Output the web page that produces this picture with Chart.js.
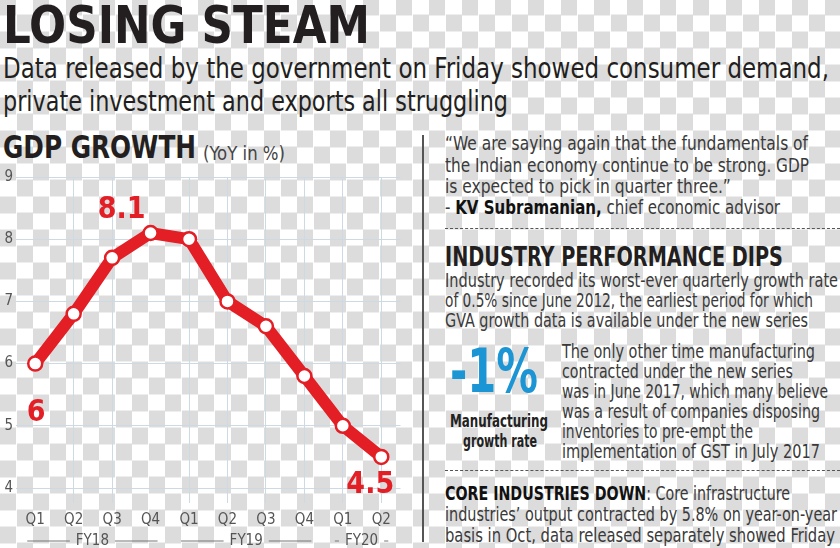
<!DOCTYPE html>
<html lang="en">
<head>
  <meta charset="UTF-8">
  <title>Losing steam</title>
  <script src="https://cdn.jsdelivr.net/npm/chart.js"></script>
  <style>
    :root {
      --red: #e31e25;
      --blue: #1b95d3;
      --ink: #231f20;
      --text: #3a3a3a;
    }

    body {
      margin: 0;
      width: 840px;
      height: 548px;
      overflow: hidden;
      position: relative;
      font-family: 'Liberation Sans Narrow', 'DejaVu Sans Condensed', 'Roboto', sans-serif;
      color: var(--text);
      /* transparency checkerboard of the original png */
      background: repeating-conic-gradient(#fff 0 25%, #dcdcdc 0 50%) 0 -1.5px / 33px 33px;
    }

    .t {
      position: absolute;
      white-space: nowrap;
      line-height: 1;
      transform-origin: 0 0;
    }

    .title { font-weight: bold; font-size: 52px; color: var(--ink); }
    .sub { font-size: 29px; color: var(--ink); }
    .head { font-weight: bold; font-size: 32px; color: var(--ink); }
    .unit { font-size: 20px; color: #444; }
    .body { font-size: 19px; }
    .body b { color: #111; }
    .big { font-weight: bold; font-size: 60px; color: var(--blue); }
    .small { font-weight: bold; font-size: 18px; color: #222; }

    .divider {
      position: absolute;
      left: 422px;
      top: 135px;
      width: 1.5px;
      height: 407px;
      background: #555;
    }

    .dash {
      position: absolute;
      left: 445px;
      width: 395px;
      height: 0;
      border-top: 1px dashed #555;
    }

    #wrap {
      position: absolute;
      left: 0;
      top: 165px;
      width: 410px;
      height: 383px;
    }
  </style>
</head>
<body>

  <div class="t title" data-w="367" style="left:3px; top:-1px;">LOSING STEAM</div>
  <div class="t sub" data-w="826" style="left:3px; top:54px;">Data released by the government on Friday showed consumer demand,</div>
  <div class="t sub" data-w="505" style="left:3px; top:87px;">private investment and exports all struggling</div>

  <div class="t head" data-w="193" style="left:3px; top:131px;">GDP GROWTH</div>
  <div class="t unit" data-w="82" style="left:203px; top:143px;">(YoY in %)</div>

  <div class="divider"></div>

  <div class="t body" id="q1" data-w="363" style="left:445px; top:134px;">“We are saying again that the fundamentals of</div>
  <div class="t body" data-w="364" style="left:445px; top:156px;">the Indian economy continue to be strong. GDP</div>
  <div class="t body" data-like="q1" style="left:445px; top:177px;">is expected to pick in quarter three.”</div>
  <div class="t body" data-w="335" style="left:445px; top:198px;">- <b>KV Subramanian,</b> chief economic advisor</div>

  <div class="dash" style="top:228px;"></div>

  <div class="t head" data-w="338" style="left:445px; top:243px; font-size:27px;">INDUSTRY PERFORMANCE DIPS</div>
  <div class="t body" data-w="393" style="left:445px; top:271px;">Industry recorded its worst-ever quarterly growth rate</div>
  <div class="t body" data-w="368" style="left:445px; top:291px;">of 0.5% since June 2012, the earliest period for which</div>
  <div class="t body" data-w="363" style="left:445px; top:311px;">GVA growth data is available under the new series</div>

  <div class="t big" data-w="88" style="left:450px; top:341px;">-1%</div>
  <div class="t small" data-w="98" style="left:450px; top:412px;">Manufacturing</div>
  <div class="t small" data-w="74" style="left:463px; top:432px;">growth rate</div>

  <div class="t body" data-w="253" style="left:562px; top:342px;">The only other time manufacturing</div>
  <div class="t body" data-w="231" style="left:562px; top:362px;">contracted under the new series</div>
  <div class="t body" data-w="266" style="left:562px; top:382px;">was in June 2017, which many believe</div>
  <div class="t body" data-w="258" style="left:562px; top:402px;">was a result of companies disposing</div>
  <div class="t body" data-w="191" style="left:562px; top:422px;">inventories to pre-empt the</div>
  <div class="t body" data-w="258" style="left:562px; top:442px;">implementation of GST in July 2017</div>

  <div class="dash" style="top:470px;"></div>

  <div class="t body" data-w="345" style="left:445px; top:483px; font-size:20px;"><b>CORE INDUSTRIES DOWN</b>: Core infrastructure</div>
  <div class="t body" data-w="392" style="left:445px; top:504px; font-size:20px;">industries’ output contracted by 5.8% on year-on-year</div>
  <div class="t body" data-w="390" style="left:445px; top:525px; font-size:20px;">basis in Oct, data released separately showed Friday</div>

  <div id="wrap"><canvas id="gdp"></canvas></div>

  <script>
    const quarters = ['Q1', 'Q2', 'Q3', 'Q4', 'Q1', 'Q2', 'Q3', 'Q4', 'Q1', 'Q2'];
    const gdpGrowth = [6.0, 6.8, 7.7, 8.1, 8.0, 7.0, 6.6, 5.8, 5.0, 4.5];
    const fiscalYears = ['FY18', 'FY19', 'FY20'];
    const quartersPerYear = [4, 4, 2];
    const yMin = 4;
    const yMax = 9;
    const labelledPoints = [0, 3, 9];

    const FONT = "'Liberation Sans Narrow', 'DejaVu Sans Condensed', sans-serif";
    const RED = '#e31e25';
    const GRID = '#cddae4';

    // squeeze each text line to the width it has in the print layout
    function fitText() {
      const scales = {};
      document.querySelectorAll('[data-w]').forEach(el => {
        const s = el.dataset.w / el.getBoundingClientRect().width;
        scales[el.id] = s;
        el.style.transform = 'scaleX(' + s + ')';
      });
      document.querySelectorAll('[data-like]').forEach(el => {
        el.style.transform = 'scaleX(' + scales[el.dataset.like] + ')';
      });
    }

    // value labels next to some points (offsets are layout only)
    const labelOffsets = { 0: [1, 50], 3: [-29, -23], 9: [-11, 28] };

    const pointLabels = {
      id: 'pointLabels',
      afterDatasetsDraw(chart) {
        const ctx = chart.ctx;
        const pts = chart.getDatasetMeta(0).data;
        ctx.save();
        ctx.font = "bold 30px " + FONT;
        ctx.fillStyle = RED;
        ctx.textAlign = 'center';
        ctx.textBaseline = 'middle';
        labelledPoints.forEach(i => {
          const off = labelOffsets[i] || [0, -25];
          ctx.fillText(String(gdpGrowth[i]), pts[i].x + off[0], pts[i].y + off[1]);
        });
        ctx.restore();
      }
    };

    // fiscal year row under the quarter labels
    const yearRow = {
      id: 'yearRow',
      afterDraw(chart) {
        const ctx = chart.ctx;
        const x = chart.scales.x;
        const y = chart.height - 7;
        ctx.save();
        ctx.font = "15px " + FONT;
        ctx.fillStyle = '#555';
        ctx.strokeStyle = '#777';
        ctx.lineWidth = 1;
        ctx.textAlign = 'center';
        ctx.textBaseline = 'middle';
        let start = 0;
        fiscalYears.forEach((fy, k) => {
          const end = start + quartersPerYear[k] - 1;
          const x0 = x.getPixelForTick(start) - 8;
          const x1 = x.getPixelForTick(end) + 7;
          const mid = (x0 + x1) / 2;
          const half = ctx.measureText(fy).width / 2 + 6;
          ctx.fillText(fy, mid, y);
          ctx.beginPath();
          ctx.moveTo(x0, y); ctx.lineTo(mid - half, y);
          ctx.moveTo(mid + half, y); ctx.lineTo(x1, y);
          ctx.stroke();
          start = end + 1;
        });
        ctx.restore();
      }
    };

    function drawChart() {
      fitText();
      new Chart(document.getElementById('gdp'), {
        type: 'line',
        data: {
          labels: quarters,
          datasets: [{
            data: gdpGrowth,
            borderColor: RED,
            borderWidth: 12,
            backgroundColor: '#fff',
            pointBackgroundColor: '#fff',
            pointBorderColor: RED,
            pointBorderWidth: 2.5,
            pointRadius: 7,
            tension: 0
          }]
        },
        options: {
          responsive: true,
          maintainAspectRatio: false,
          animation: false,
          layout: { padding: { top: 12, right: 8, left: 2 } },
          plugins: {
            legend: { display: false },
            tooltip: { enabled: false }
          },
          scales: {
            x: {
              offset: true,
              afterFit(scale) { scale.height = 60; },
              border: { display: false },
              grid: {
                offset: false,
                tickLength: 15,
                color: c => (c.index === 0 || c.index === 3) ? 'rgba(0,0,0,0)' : GRID,
              },
              ticks: {
                padding: 8,
                color: '#555',
                font: { family: FONT, size: 15 }
              }
            },
            y: {
              min: yMin,
              max: yMax,
              afterFit(scale) { scale.width = 14; },
              border: { display: false },
              grid: { color: GRID, drawTicks: false },
              ticks: {
                stepSize: 1,
                padding: 3,
                color: '#555',
                font: { family: FONT, size: 15 }
              }
            }
          }
        },
        plugins: [pointLabels, yearRow]
      });
    }

    document.fonts.ready.then(drawChart);
  </script>

</body>
</html>
